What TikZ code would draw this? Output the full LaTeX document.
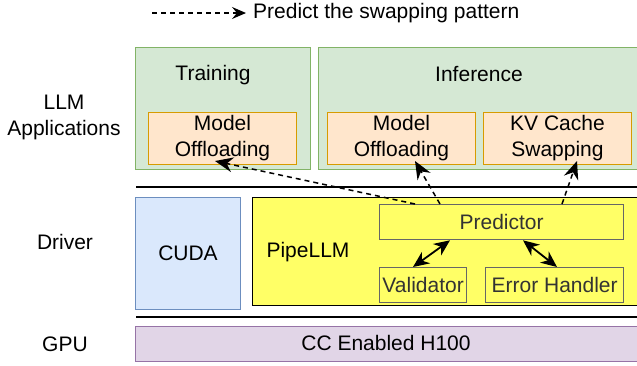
\documentclass[tikz,border=0pt]{standalone}
\usepackage{fontspec}
\setmainfont{Liberation Sans}
\usepackage{xcolor}
\usetikzlibrary{positioning,arrows.meta}

\definecolor{appfill}{HTML}{D5E8D4}
\definecolor{appline}{HTML}{82B366}
\definecolor{useFill}{HTML}{FFE6CC}
\definecolor{useLine}{HTML}{D79B00}
\definecolor{cudaFill}{HTML}{DAE8FC}
\definecolor{cudaLine}{HTML}{6C8EBF}
\definecolor{pipeFill}{HTML}{FFFF66}
\definecolor{modLine}{HTML}{666666}
\definecolor{gpuFill}{HTML}{E1D5E7}
\definecolor{gpuLine}{HTML}{9673A6}

\tikzset{
    txt/.style={font=\fontsize{21}{26}\selectfont, align=center, inner sep=0pt},
    box/.style={draw, anchor=north west, inner sep=0pt, line width=1pt, txt},
    modbox/.style={box, draw=modLine, fill=pipeFill, line width=1.3pt, text=black!80},
    usebox/.style={box, draw=useLine, fill=useFill},
    predarrow/.style={dash pattern=on 5pt off 4pt, line width=1.5pt, -{Stealth[length=18pt,width=15pt,inset=6pt]}},
    legarrow/.style={dash pattern=on 5pt off 4pt, line width=1.3pt, -{Stealth[length=14pt,width=12pt,inset=5pt]}},
    linkarrow/.style={line width=1.8pt, {Stealth[length=16pt,width=14pt,inset=5pt]}-{Stealth[length=16pt,width=14pt,inset=5pt]}},
}

\begin{document}
\begin{tikzpicture}[x=1pt,y=-1pt]
    \clip (0,0) rectangle (637,365);

    % legend
    \coordinate (lgA) at (152,13);
    \coordinate (lgB) at (246,13);
    \node[txt, anchor=west] (lgT) at (253,13) {Predict the swapping pattern};
    \draw[legarrow] (lgA) -- (lgB);

    % layer names
    \node[txt] (appName) at (64,117) {LLM\\Applications};
    \node[txt] (drvName) at (65,242) {Driver};
    \node[txt] (gpuName) at (65,344) {GPU};

    % application layer
    \node[box, draw=appline, fill=appfill, minimum width=175pt, minimum height=122pt] (train) at (135,47) {};
    \node[box, draw=appline, fill=appfill, minimum width=325pt, minimum height=122pt] (infer) at (318,47) {};
    \node[txt] (trainT) at (213,75) {Training};
    \node[txt] (inferT) at (479,74) {Inference};
    \node[usebox, minimum width=148pt, minimum height=52pt] (trmo) at (148,112) {Model\\Offloading};
    \node[usebox, minimum width=148pt, minimum height=52pt] (infmo) at (327,112) {Model\\Offloading};
    \node[usebox, minimum width=148pt, minimum height=52pt] (kv) at (483,112) {KV Cache\\Swapping};

    % separators
    \coordinate (sepA) at (136,187);
    \coordinate (sepB) at (640,187);
    \coordinate (sepC) at (136,317);
    \coordinate (sepD) at (640,317);
    \draw[line width=1.5pt] (sepA) -- (sepB);
    \draw[line width=1.5pt] (sepC) -- (sepD);

    % driver layer
    \node[box, draw=cudaLine, fill=cudaFill, minimum width=105pt, minimum height=112pt] (cuda) at (135,197) {CUDA};
    \node[box, fill=pipeFill, line width=1.3pt, minimum width=390pt, minimum height=108pt] (pipe) at (252,197) {};
    \node[txt] (pipeT) at (308,252) {PipeLLM};
    \node[modbox, minimum width=244pt, minimum height=35pt] (pred) at (379,204) {Predictor};
    \node[modbox, minimum width=87pt, minimum height=35pt] (val) at (379,267) {Validator};
    \node[modbox, minimum width=138pt, minimum height=35pt] (err) at (485,267) {Error Handler};

    % gpu layer
    \node[box, draw=gpuLine, fill=gpuFill, minimum width=505pt, minimum height=35pt] (gpu) at (135,326) {};
    \node[txt] (gpuT) at (386,343) {CC Enabled H100};

    % predictor links
    \draw[predarrow] ([xshift=36pt]pred.north west) -- ([xshift=67pt,yshift=4pt]trmo.south west);
    \draw[predarrow] ([xshift=61pt]pred.north west) -- ([xshift=88pt,yshift=4pt]infmo.south west);
    \draw[predarrow] ([xshift=183pt]pred.north west) -- ([xshift=94pt,yshift=4pt]kv.south west);
    \draw[linkarrow] ([xshift=71pt]pred.south west) -- ([xshift=34pt]val.north west);
    \draw[linkarrow] ([xshift=144pt]pred.south west) -- ([xshift=72pt]err.north west);
\end{tikzpicture}
\end{document}
